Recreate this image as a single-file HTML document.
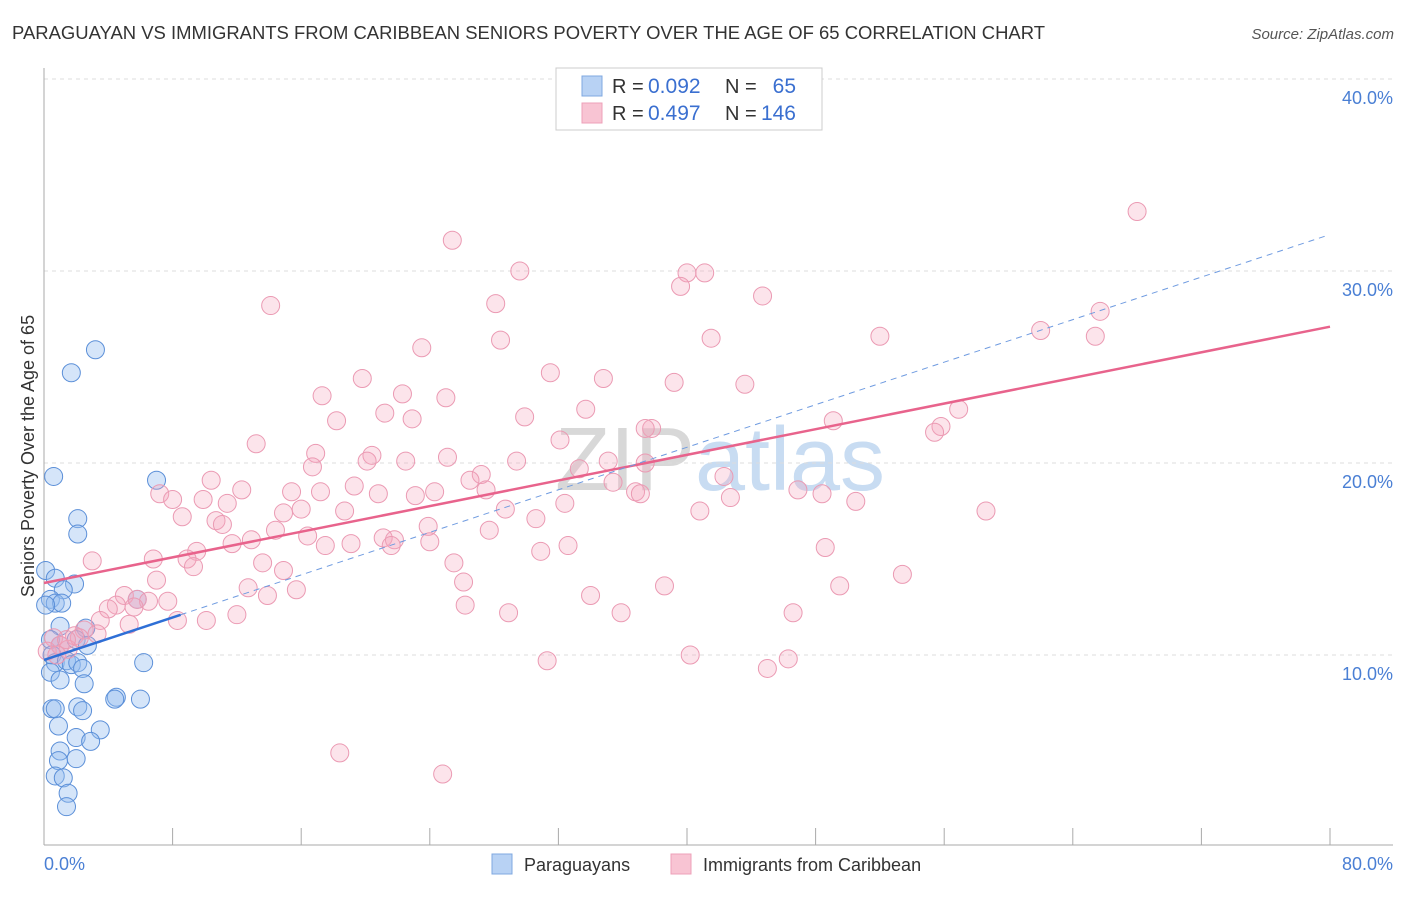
<!DOCTYPE html>
<html><head><meta charset="utf-8"><style>
body{margin:0;background:#fff;font-family:"Liberation Sans",sans-serif;}
svg text{font-family:"Liberation Sans",sans-serif;}
</style></head><body>
<svg id="chart" width="1406" height="892" xmlns="http://www.w3.org/2000/svg">
<text x="12" y="39" font-size="18" fill="#333" textLength="1033" lengthAdjust="spacingAndGlyphs">PARAGUAYAN VS IMMIGRANTS FROM CARIBBEAN SENIORS POVERTY OVER THE AGE OF 65 CORRELATION CHART</text>
<text x="1394" y="39" font-size="15" fill="#555" font-style="italic" text-anchor="end">Source: ZipAtlas.com</text>
<text x="720" y="490" font-size="90" text-anchor="middle" fill="#ddd" font-family="Liberation Serif"><tspan fill="#d8d8d8">ZIP</tspan><tspan fill="#c8dcf2" font-family="Liberation Sans">atlas</tspan></text>
<g id="grid"></g>
<g id="axes"></g>
<g id="pts"></g>
<g id="lines"></g>
<text transform="translate(34,456) rotate(-90)" font-size="18" fill="#333" text-anchor="middle">Seniors Poverty Over the Age of 65</text>
<text x="44" y="870" font-size="18" fill="#4a7fd4">0.0%</text>
<text x="1393" y="870" font-size="18" fill="#4a7fd4" text-anchor="end">80.0%</text>
<g>
<rect x="556" y="68" width="266" height="62" fill="#fff" stroke="#ccc"/>
<rect x="582" y="76" width="20" height="20" fill="#b8d2f4" stroke="#7fa8e0"/>
<rect x="582" y="103" width="20" height="20" fill="#f8c4d3" stroke="#eea0b8"/>
<text x="612" y="93" font-size="20" fill="#333">R =</text>
<text x="648" y="93" font-size="21" fill="#3a6fd0">0.092</text>
<text x="725" y="93" font-size="20" fill="#333">N =</text>
<text x="796" y="93" font-size="21" fill="#3a6fd0" text-anchor="end">65</text>
<text x="612" y="120" font-size="20" fill="#333">R =</text>
<text x="648" y="120" font-size="21" fill="#3a6fd0">0.497</text>
<text x="725" y="120" font-size="20" fill="#333">N =</text>
<text x="796" y="120" font-size="21" fill="#3a6fd0" text-anchor="end">146</text>
</g>
<g>
<rect x="492" y="854" width="20" height="20" fill="#b8d2f4" stroke="#7fa8e0"/>
<text x="524" y="871" font-size="18" fill="#333">Paraguayans</text>
<rect x="671" y="854" width="20" height="20" fill="#f8c4d3" stroke="#eea0b8"/>
<text x="703" y="871" font-size="18" fill="#333">Immigrants from Caribbean</text>
</g>
</svg>
<script>
const yTicks=[10,20,30,40];
const yTickLabels=["10.0%","20.0%","30.0%","40.0%"];
const xTicks=[0,8,16,24,32,40,48,56,64,72,80];
const blueX=[3.2,1.7,0.6,7.0,2.1,2.1,0.1,0.7,1.9,1.2,0.4,0.7,1.1,0.1,5.8,2.6,1.0,0.4,1.0,2.0,2.7,0.5,0.7,1.4,1.7,2.1,2.4,0.4,6.2,1.0,2.5,4.5,4.4,6.0,0.5,0.7,2.1,2.4,0.9,3.5,2.0,2.9,1.0,0.9,2.0,0.7,1.2,1.5,1.4];
const blueY=[25.9,24.7,19.3,19.1,17.1,16.3,14.4,14.0,13.7,13.4,12.9,12.7,12.7,12.6,12.9,11.4,11.5,10.8,10.5,10.8,10.5,10.0,9.6,9.7,9.5,9.6,9.3,9.1,9.6,8.7,8.5,7.8,7.7,7.7,7.2,7.2,7.3,7.1,6.3,6.1,5.7,5.5,5.0,4.5,4.6,3.7,3.6,2.8,2.1];
const pinkX=[68.0,25.4,29.6,40.0,41.1,39.6,14.1,28.1,44.7,65.7,62.0,65.4,52.0,41.5,28.4,23.5,31.5,34.8,19.8,39.2,43.6,17.3,22.3,25.0,56.9,33.7,21.2,22.9,18.2,29.9,49.1,55.8,55.4,37.8,37.4,32.1,13.2,16.9,20.4,25.1,20.1,22.5,29.4,35.1,37.4,16.7,33.3,27.2,42.3,10.4,26.5,19.3,35.4,7.2,12.3,15.4,17.2,20.8,23.1,24.3,27.5,36.8,37.1,46.9,48.4,8.0,9.9,11.4,42.7,50.5,28.7,32.4,16.0,14.9,18.7,40.8,58.6,8.6,10.7,30.6,11.1,23.9,14.4,27.7,16.4,21.1,21.8,12.9,11.7,24.0,17.5,19.1,21.6,48.6,32.6,30.9,9.5,6.8,8.9,3.0,13.6,25.5,9.3,14.9,53.4,7.0,26.1,38.6,49.5,12.7,15.7,13.9,5.0,34.0,5.8,6.5,7.7,4.5,5.6,4.0,26.2,46.6,28.9,35.9,12.0,8.3,3.5,10.1,5.3,2.5,3.3,1.9,0.6,1.0,1.5,0.2,0.8,40.2,46.3,31.3,45.0,18.4,24.8,2.2,1.4];
const pinkY=[33.1,31.6,30.0,29.9,29.9,29.2,28.2,28.3,28.7,27.9,26.9,26.6,26.6,26.5,26.4,26.0,24.7,24.4,24.4,24.2,24.1,23.5,23.6,23.4,22.8,22.8,22.6,22.3,22.2,22.4,22.2,21.9,21.6,21.8,21.8,21.2,21.0,20.5,20.4,20.3,20.1,20.1,20.1,20.1,20.0,19.8,19.7,19.4,19.3,19.1,19.1,18.8,19.0,18.4,18.6,18.5,18.5,18.4,18.3,18.5,18.6,18.5,18.4,18.6,18.4,18.1,18.1,17.9,18.2,18.0,17.6,17.9,17.6,17.4,17.5,17.5,17.5,17.2,17.0,17.1,16.8,16.7,16.5,16.5,16.2,16.1,16.0,16.0,15.8,15.9,15.7,15.8,15.7,15.6,15.7,15.4,15.4,15.0,15.0,14.9,14.8,14.8,14.6,14.4,14.2,13.9,13.8,13.6,13.6,13.5,13.4,13.1,13.1,13.1,12.9,12.8,12.8,12.6,12.5,12.4,12.6,12.2,12.2,12.2,12.1,11.8,11.8,11.8,11.6,11.3,11.1,11.0,10.9,10.5,10.3,10.2,10.0,10.0,9.8,9.7,9.3,4.9,3.8,10.9,10.8];
const pinkLine=[13.75,27.1];
const blueLine=[9.74,0.277];
const NS="http://www.w3.org/2000/svg";
const X=v=>44+v*(1286/80);
const Y=v=>847-v*19.2;
function mk(tag,attrs,parent){const e=document.createElementNS(NS,tag);for(const k in attrs)e.setAttribute(k,attrs[k]);document.getElementById(parent).appendChild(e);return e;}
yTicks.forEach((t,i)=>{
 const g=mk('line',{x1:44,x2:1393,y1:Y(t),y2:Y(t),stroke:'#ddd','stroke-dasharray':'4,4'},'grid');
 
 
 const tx=mk('text',{x:1393,y:Y(t)+25,'font-size':18,fill:'#4a7fd4','text-anchor':'end'},'grid');
 tx.textContent=yTickLabels[i];
 
 
});
const ya=mk('line',{x1:44,x2:44,y1:68,y2:845,stroke:'#aaa'},'axes');


const xa=mk('line',{x1:44,x2:1393,y1:845,y2:845,stroke:'#aaa'},'axes');


xTicks.forEach(t=>{
 const l=mk('line',{x1:X(t),x2:X(t),y1:828,y2:845,stroke:'#aaa'},'axes');
 
 
});
blueX.forEach((x,i)=>{
 const c=mk('circle',{cx:X(x),cy:Y(blueY[i]),r:9,fill:'rgba(150,190,240,0.4)',stroke:'#5b8fd8','stroke-width':1},'pts');
 
 
});
pinkX.forEach((x,i)=>{
 const c=mk('circle',{cx:X(x),cy:Y(pinkY[i]),r:9,fill:'rgba(244,166,190,0.3)',stroke:'#eb9ab3','stroke-width':1},'pts');
 
 
});
const pl=mk('line',{x1:X(0),y1:Y(pinkLine[0]),x2:X(80),y2:Y(pinkLine[1]),stroke:'#e8638c','stroke-width':2.5},'lines');


const bf=v=>blueLine[0]+blueLine[1]*v;
const bd=mk('line',{x1:X(8.5),y1:Y(bf(8.5)),x2:X(79.7),y2:Y(bf(79.7)),stroke:'#6f9be0','stroke-width':1,'stroke-dasharray':'6,5'},'lines');


const bs=mk('line',{x1:X(0),y1:Y(bf(0)),x2:X(8.5),y2:Y(bf(8.5)),stroke:'#2e6fd6','stroke-width':2.5},'lines');


</script>
</body></html>
